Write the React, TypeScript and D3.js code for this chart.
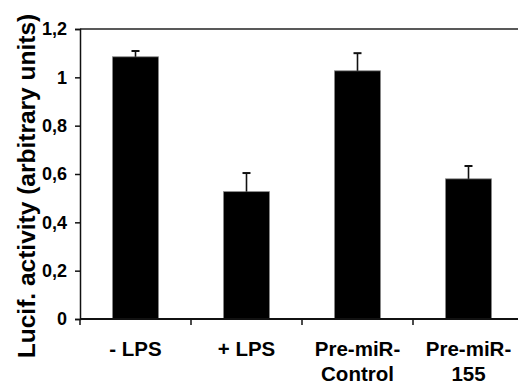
import { useRef, useEffect } from 'react';
import * as d3 from 'd3';

// dados
const categorias = [['- LPS'], ['+ LPS'], ['Pre-miR-', 'Control'], ['Pre-miR-', '155']];
const valores = [1.085, 0.527, 1.027, 0.58];
const erros = [0.024, 0.077, 0.073, 0.053];
const yTicks = [0, 0.2, 0.4, 0.6, 0.8, 1, 1.2];

const W = 518;
const H = 384;
const margin = { top: 29, right: -6, bottom: 65, left: 80 };
const font = '"Liberation Sans", Arial, sans-serif';

const App = () => {
  const svgRef = useRef<SVGSVGElement>(null);

  useEffect(() => {
    const svg = d3.select(svgRef.current);
    svg.selectAll('*').remove();

    const x0 = margin.left;
    const x1 = W - margin.right;
    const yBase = H - margin.bottom;

    const xSc = d3.scaleBand<number>().domain(d3.range(categorias.length)).range([x0, x1]).paddingInner(0).paddingOuter(0);
    const ySc = d3.scaleLinear().domain([0, 1.2]).range([yBase, margin.top]);

    const barW = xSc.bandwidth() * 0.415;
    const g = svg.append('g');

    // barras
    g.selectAll('.bar')
      .data(valores)
      .join('rect')
      .attr('class', 'bar')
      .attr('x', (d, i) => (xSc(i) as number) + xSc.bandwidth() / 2 - barW / 2)
      .attr('y', (d) => ySc(d))
      .attr('width', barW)
      .attr('height', (d) => yBase - ySc(d))
      .attr('fill', '#000')
      .attr('stroke', '#8a8a8a')
      .attr('stroke-width', 0.8);

    // barras de erro (so para cima)
    const errG = g.selectAll('.err').data(valores).join('g').attr('class', 'err');
    errG.append('line')
      .attr('x1', (d, i) => (xSc(i) as number) + xSc.bandwidth() / 2)
      .attr('x2', (d, i) => (xSc(i) as number) + xSc.bandwidth() / 2)
      .attr('y1', (d) => ySc(d))
      .attr('y2', (d, i) => ySc(d + erros[i]))
      .attr('stroke', '#111')
      .attr('stroke-width', 1.6);
    errG.append('line')
      .attr('x1', (d, i) => (xSc(i) as number) + xSc.bandwidth() / 2 - 4)
      .attr('x2', (d, i) => (xSc(i) as number) + xSc.bandwidth() / 2 + 4)
      .attr('y1', (d, i) => ySc(d + erros[i]))
      .attr('y2', (d, i) => ySc(d + erros[i]))
      .attr('stroke', '#111')
      .attr('stroke-width', 2);

    // linha de topo
    svg.append('line')
      .attr('x1', x0).attr('x2', W)
      .attr('y1', margin.top).attr('y2', margin.top)
      .attr('stroke', '#222').attr('stroke-width', 1.6);

    // eixo Y
    const yAxis = d3.axisLeft(ySc).tickValues(yTicks).tickSize(5).tickPadding(8)
      .tickFormat((d) => d3.format('~g')(d as number).replace('.', ','));
    const gY = svg.append('g').attr('transform', `translate(${x0},0)`).call(yAxis);
    gY.select('.domain').attr('stroke', '#111').attr('stroke-width', 1.5);
    gY.selectAll('.tick line').attr('stroke', '#111').attr('stroke-width', 1.5);
    gY.selectAll('text')
      .attr('fill', '#000')
      .style('font-family', font)
      .style('font-weight', 'bold')
      .style('font-size', '18px');

    // eixo X
    const tickPos = d3.range(categorias.length + 1).map((i) => x0 + i * xSc.bandwidth());
    svg.append('line')
      .attr('x1', x0).attr('x2', W)
      .attr('y1', yBase).attr('y2', yBase)
      .attr('stroke', '#111').attr('stroke-width', 1.8);
    svg.selectAll('.xtick')
      .data(tickPos)
      .join('line')
      .attr('class', 'xtick')
      .attr('x1', (d) => d).attr('x2', (d) => d)
      .attr('y1', yBase).attr('y2', yBase + 6)
      .attr('stroke', '#111').attr('stroke-width', 1.5);

    const lab = svg.selectAll('.xlab')
      .data(categorias)
      .join('text')
      .attr('class', 'xlab')
      .attr('text-anchor', 'middle')
      .attr('fill', '#000')
      .style('font-family', font)
      .style('font-weight', 'bold')
      .style('font-size', '20.5px');
    lab.each(function (linhas, i) {
      const cx = (xSc(i) as number) + xSc.bandwidth() / 2;
      d3.select(this)
        .selectAll('tspan')
        .data(linhas)
        .join('tspan')
        .attr('x', cx)
        .attr('y', (d, j) => yBase + 37 + j * 25)
        .text((d) => d);
    });

    // titulo do eixo Y
    svg.append('text')
      .attr('transform', `translate(35, 186) rotate(-90)`)
      .attr('text-anchor', 'middle')
      .attr('fill', '#000')
      .style('font-family', font)
      .style('font-weight', 'bold')
      .style('font-size', '24.5px')
      .text('Lucif. activity (arbitrary units)');
  }, []);

  return (
    <div style={{ position: 'absolute', left: 0, top: 0, width: W, height: H, background: '#fff' }}>
      <svg ref={svgRef} width={W} height={H} style={{ display: 'block' }}></svg>
    </div>
  );
};

export default App;
